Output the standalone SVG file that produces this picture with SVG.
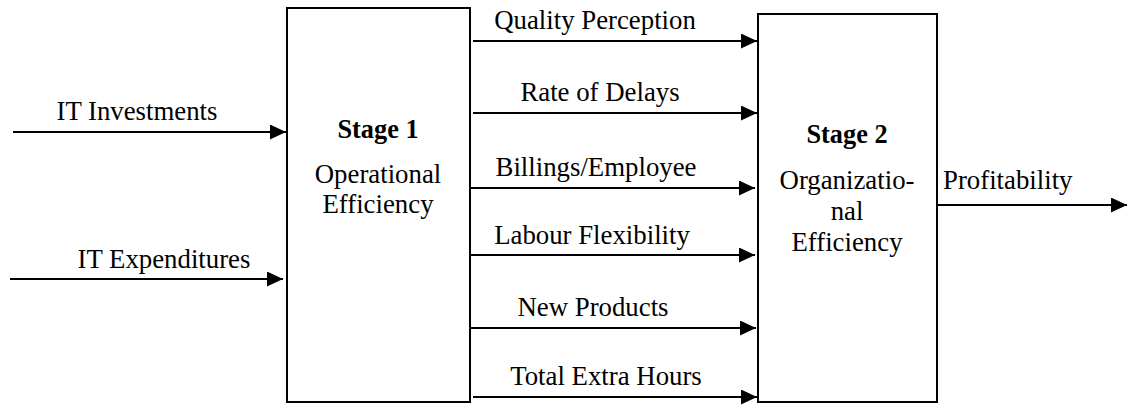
<svg xmlns="http://www.w3.org/2000/svg" width="1128" height="405" viewBox="0 0 1128 405">
  <style>
    .box { fill: #ffffff; stroke: #000000; stroke-width: 2; }
    .link { stroke: #000000; stroke-width: 2; fill: none; marker-end: url(#head); }
    text { font-family: "Liberation Serif", "Times New Roman", serif; font-size: 26.8px; fill: #000000; }
    .mid { text-anchor: middle; }
    .bold { font-weight: bold; font-size: 26.3px; }
  </style>
  <defs>
    <marker id="head" markerUnits="userSpaceOnUse" markerWidth="17" markerHeight="15" refX="16" refY="7.5" orient="auto">
      <path d="M0,0 L16,7.5 L0,15 z" fill="#000000"/>
    </marker>
  </defs>

  <rect width="1128" height="405" fill="#ffffff"/>

  <!-- Stage 1 -->
  <g id="stage1">
    <rect class="box" x="287" y="8" width="183" height="394"/>
    <text class="mid bold" x="378" y="138">Stage 1</text>
    <text class="mid" x="378" y="183">Operational</text>
    <text class="mid" x="378" y="213">Efficiency</text>
  </g>

  <!-- Stage 2 -->
  <g id="stage2">
    <rect class="box" x="758" y="14" width="179" height="388"/>
    <text class="mid bold" x="847" y="143">Stage 2</text>
    <text class="mid" x="847" y="189">Organizatio-</text>
    <text class="mid" x="847" y="220">nal</text>
    <text class="mid" x="847" y="251">Efficiency</text>
  </g>

  <!-- connectors with their labels -->
  <g id="connectors">
    <line class="link" x1="13" y1="132" x2="286" y2="132"/>
    <text class="mid" x="137" y="120">IT Investments</text>

    <line class="link" x1="10" y1="279" x2="283" y2="279"/>
    <text class="mid" x="164" y="268">IT Expenditures</text>

    <line class="link" x1="473" y1="41" x2="757" y2="41"/>
    <text class="mid" x="595" y="29">Quality Perception</text>

    <line class="link" x1="473" y1="113" x2="757" y2="113"/>
    <text class="mid" x="600" y="101">Rate of Delays</text>

    <line class="link" x1="471" y1="188" x2="755" y2="188"/>
    <text class="mid" x="596" y="176">Billings/Employee</text>

    <line class="link" x1="471" y1="255" x2="755" y2="255"/>
    <text class="mid" x="592" y="244">Labour Flexibility</text>

    <line class="link" x1="471" y1="328" x2="756" y2="328"/>
    <text class="mid" x="593" y="316">New Products</text>

    <line class="link" x1="473" y1="397" x2="757" y2="397"/>
    <text class="mid" x="606" y="385">Total Extra Hours</text>

    <line class="link" x1="937" y1="205" x2="1127" y2="205"/>
    <text x="943" y="189">Profitability</text>
  </g>
</svg>
